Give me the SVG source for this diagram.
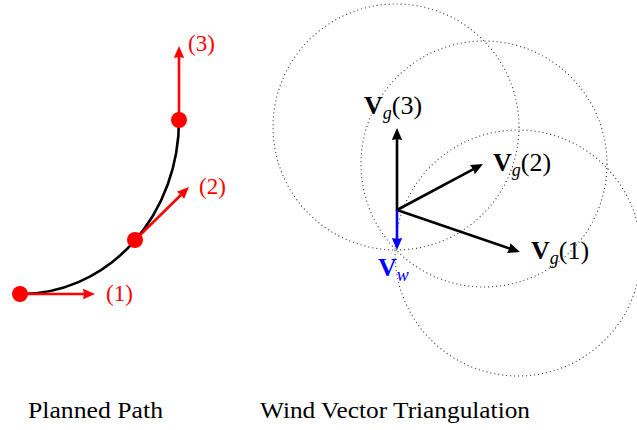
<svg xmlns="http://www.w3.org/2000/svg" width="637" height="430" viewBox="0 0 637 430">
<style>
text{font-family:"Liberation Serif",serif;}
.red{fill:#ff0000;}
.blk{fill:#000;}
.blu{fill:#0000ff;}
.circ{fill:none;stroke:#333;stroke-width:1.1;stroke-dasharray:1 3;}
.ra{stroke:#ff0000;stroke-width:2.6;fill:none;marker-end:url(#ahR);}
.ba{stroke:#000;stroke-width:2.6;fill:none;marker-end:url(#ahK);}
.wa{stroke:#0000ff;stroke-width:2.6;fill:none;marker-end:url(#ahB);}
.lbl{font-size:23px;}
.vl{font-size:26px;}
.sub{font-size:18px;font-style:italic;}
.cap{font-size:23px;fill:#000;}
</style>
<defs>
<marker id="ahR" markerUnits="userSpaceOnUse" viewBox="-14 -7 16 14" refX="-6" refY="0" markerWidth="16" markerHeight="14" orient="auto"><path d="M0,0 L-12,-5.2 L-11,0 L-12,5.2 Z" fill="#ff0000"/></marker>
<marker id="ahK" markerUnits="userSpaceOnUse" viewBox="-14 -7 16 14" refX="-6" refY="0" markerWidth="16" markerHeight="14" orient="auto"><path d="M0,0 L-12,-5.2 L-11,0 L-12,5.2 Z" fill="#000"/></marker>
<marker id="ahB" markerUnits="userSpaceOnUse" viewBox="-14 -7 16 14" refX="-6" refY="0" markerWidth="16" markerHeight="14" orient="auto"><path d="M0,0 L-12,-5.2 L-11,0 L-12,5.2 Z" fill="#0000ff"/></marker>
</defs>

<!-- Planned path -->
<g id="path-curve">
<path d="M20,294 A158,174 0 0 0 179,120" fill="none" stroke="#000" stroke-width="2.6"/>
</g>
<g id="connectors-left">
<line class="ra" x1="20" y1="294" x2="89" y2="294"/>
<line class="ra" x1="135" y1="240" x2="184.7" y2="191.2"/>
<line class="ra" x1="179" y1="120" x2="179" y2="52"/>
</g>
<g id="p1"><circle cx="20" cy="294" r="8" class="red"/><text x="106" y="301" class="lbl red">(1)</text></g>
<g id="p2"><circle cx="135" cy="240" r="8" class="red"/><text x="199" y="194" class="lbl red">(2)</text></g>
<g id="p3"><circle cx="179" cy="120" r="8" class="red"/><text x="188" y="51" class="lbl red">(3)</text></g>

<!-- Wind triangulation -->
<g id="circles">
<circle class="circ" cx="396" cy="127" r="123"/>
<circle class="circ" cx="484" cy="164" r="123"/>
<circle class="circ" cx="518" cy="253" r="123"/>
</g>
<g id="connectors-right">
<line class="ba" x1="397" y1="211" x2="397" y2="134"/>
<line class="ba" x1="397" y1="210" x2="477.7" y2="166.8"/>
<line class="ba" x1="397" y1="210" x2="514.3" y2="250.1"/>
<line class="wa" x1="397" y1="210" x2="397" y2="244"/>
</g>
<g id="vg3"><text x="364" y="114" class="vl blk"><tspan font-weight="bold">V</tspan><tspan class="sub" dy="5">g</tspan><tspan dy="-5">(3)</tspan></text></g>
<g id="vg2"><text x="493" y="171" class="vl blk"><tspan font-weight="bold">V</tspan><tspan class="sub" dy="5">g</tspan><tspan dy="-5">(2)</tspan></text></g>
<g id="vg1"><text x="531" y="259" class="vl blk"><tspan font-weight="bold">V</tspan><tspan class="sub" dy="5">g</tspan><tspan dy="-5">(1)</tspan></text></g>
<g id="vw"><text x="378" y="276" class="vl blu"><tspan font-weight="bold">V</tspan><tspan class="sub" dy="5">w</tspan></text></g>

<g id="captions">
<text x="28" y="418" class="cap" textLength="135" lengthAdjust="spacingAndGlyphs">Planned Path</text>
<text x="260" y="418" class="cap" textLength="270" lengthAdjust="spacingAndGlyphs">Wind Vector Triangulation</text>
</g>
</svg>
